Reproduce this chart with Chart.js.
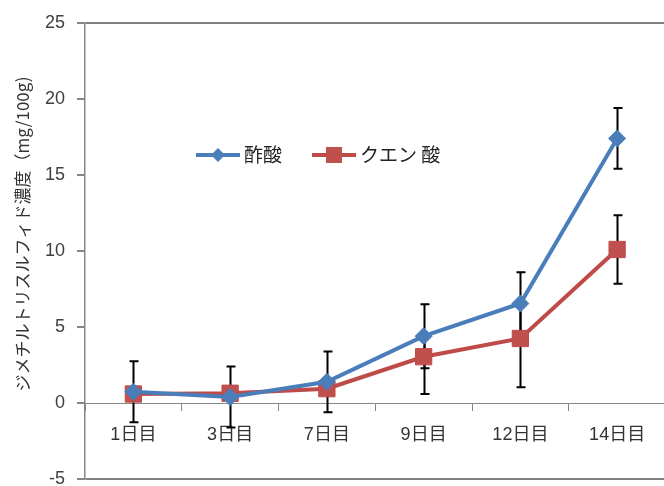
<!DOCTYPE html>
<html>
<head>
<meta charset="utf-8">
<script src="https://cdn.jsdelivr.net/npm/chart.js@4.4.1/dist/chart.umd.min.js"></script>
<style>
html, body { margin: 0; padding: 0; overflow: hidden; background: #fff; }
#wrap { width: 678px; height: 502px; }
</style>
</head>
<body>
<div id="wrap"><canvas id="chart"></canvas></div>
<script>
// data
const days = ["1日目", "3日目", "7日目", "9日目", "12日目", "14日目"];
const seriesNames = ["酢酸", "クエン 酸"];
const aceticAcid = [0.75, 0.4, 1.4, 4.4, 6.55, 17.4];
const aceticErr = [2.0, 2.0, 2.0, 2.1, 2.05, 2.0];
const citricAcid = [0.6, 0.65, 0.95, 3.05, 4.25, 10.1];
const citricErrUp = [0.3, 0.3, 0.3, 1.35, 2.3, 2.25];
const citricErrDown = [0.3, 0.3, 0.3, 2.45, 3.2, 2.25];
const yMin = -5, yMax = 25, yStep = 5;

const FONT = "'Liberation Sans', 'Noto Sans CJK JP', sans-serif";
const JP_FONT = "'Noto Sans CJK JP', sans-serif";

// error bars, drawn under the markers
const errorBars = {
    id: 'errorBars',
    beforeDatasetsDraw(chart) {
        const { ctx, scales } = chart;
        const ups = [aceticErr, citricErrUp];
        const downs = [aceticErr, citricErrDown];
        ctx.save();
        ctx.strokeStyle = '#000';
        ctx.lineWidth = 2;
        chart.data.datasets.forEach((ds, i) => {
            ds.data.forEach((v, j) => {
                const px = Math.round(scales.x.getPixelForValue(j)) + 0.5;
                const top = scales.y.getPixelForValue(v + ups[i][j]);
                const bot = scales.y.getPixelForValue(v - downs[i][j]);
                ctx.beginPath();
                ctx.moveTo(px, top); ctx.lineTo(px, bot);
                ctx.moveTo(px - 4, top); ctx.lineTo(px + 5, top);
                ctx.moveTo(px - 4, bot); ctx.lineTo(px + 5, bot);
                ctx.stroke();
            });
        });
        ctx.restore();
    }
};

// legend sits inside the plot like the original
const plotLegend = {
    id: 'plotLegend',
    afterDraw(chart) {
        const ctx = chart.ctx;
        const spots = [196, 312];
        const y = 155;
        ctx.save();
        chart.data.datasets.forEach((ds, i) => {
            const x0 = spots[i];
            ctx.strokeStyle = ds.borderColor;
            ctx.lineWidth = 4;
            ctx.beginPath();
            ctx.moveTo(x0, y); ctx.lineTo(x0 + 44, y);
            ctx.stroke();
            ctx.fillStyle = ds.pointBackgroundColor;
            ctx.beginPath();
            if (i === 0) {
                ctx.moveTo(x0 + 22, y - 7); ctx.lineTo(x0 + 29, y);
                ctx.lineTo(x0 + 22, y + 7); ctx.lineTo(x0 + 15, y);
            } else {
                ctx.rect(x0 + 14, y - 8, 16, 16);
            }
            ctx.closePath();
            ctx.fill();
            ctx.fillStyle = '#222';
            ctx.font = '19px ' + JP_FONT;
            ctx.textBaseline = 'middle';
            ctx.fillText(ds.label, x0 + 48, y);
        });
        ctx.restore();
    }
};

new Chart(document.getElementById('chart').getContext('2d'), {
    type: 'line',
    data: {
        labels: days,
        datasets: [{
            label: seriesNames[0],
            data: aceticAcid,
            borderColor: '#4A7EBB',
            borderWidth: 4,
            pointStyle: 'rectRot',
            pointRadius: 8.5,
            pointBackgroundColor: '#4A7EBB',
            pointBorderColor: '#4A7EBB',
            pointBorderWidth: 1,
            tension: 0
        }, {
            label: seriesNames[1],
            data: citricAcid,
            borderColor: '#BE4B48',
            borderWidth: 4,
            pointStyle: 'rect',
            pointRadius: 11.5,
            pointBackgroundColor: '#C0504D',
            pointBorderColor: '#BE4B48',
            pointBorderWidth: 1,
            tension: 0
        }]
    },
    options: {
        responsive: true,
        maintainAspectRatio: false,
        animation: false,
        layout: { padding: { top: 16, bottom: 8, left: 0, right: 0 } },
        plugins: {
            legend: { display: false },
            tooltip: { enabled: false }
        },
        scales: {
            x: {
                position: { y: 0 },
                offset: true,
                grid: {
                    offset: true,
                    drawOnChartArea: false,
                    tickLength: 7,
                    tickColor: '#868686'
                },
                border: { color: '#868686', width: 1 },
                ticks: {
                    color: '#333',
                    font: { family: FONT, size: 18 },
                    padding: 14,
                    maxRotation: 0
                }
            },
            y: {
                min: yMin,
                max: yMax,
                afterFit(scale) { scale.width = 85; },
                ticks: {
                    stepSize: yStep,
                    color: '#404040',
                    font: { family: FONT, size: 18 },
                    padding: 12
                },
                grid: {
                    color: c => (c.tick.value === yMax || c.tick.value === yMin) ? '#808080' : 'rgba(0,0,0,0)',
                    lineWidth: 2,
                    tickLength: 8,
                    tickColor: '#868686'
                },
                border: { color: '#868686', width: 1.5 },
                title: {
                    display: true,
                    text: '\u3000\u3000ジメチルトリスルフィド濃度（mg/100g)',
                    color: '#333',
                    font: { family: JP_FONT, size: 17 },
                    padding: { top: 12, bottom: 0 }
                }
            }
        }
    },
    plugins: [errorBars, plotLegend]
});
</script>
</body>
</html>
